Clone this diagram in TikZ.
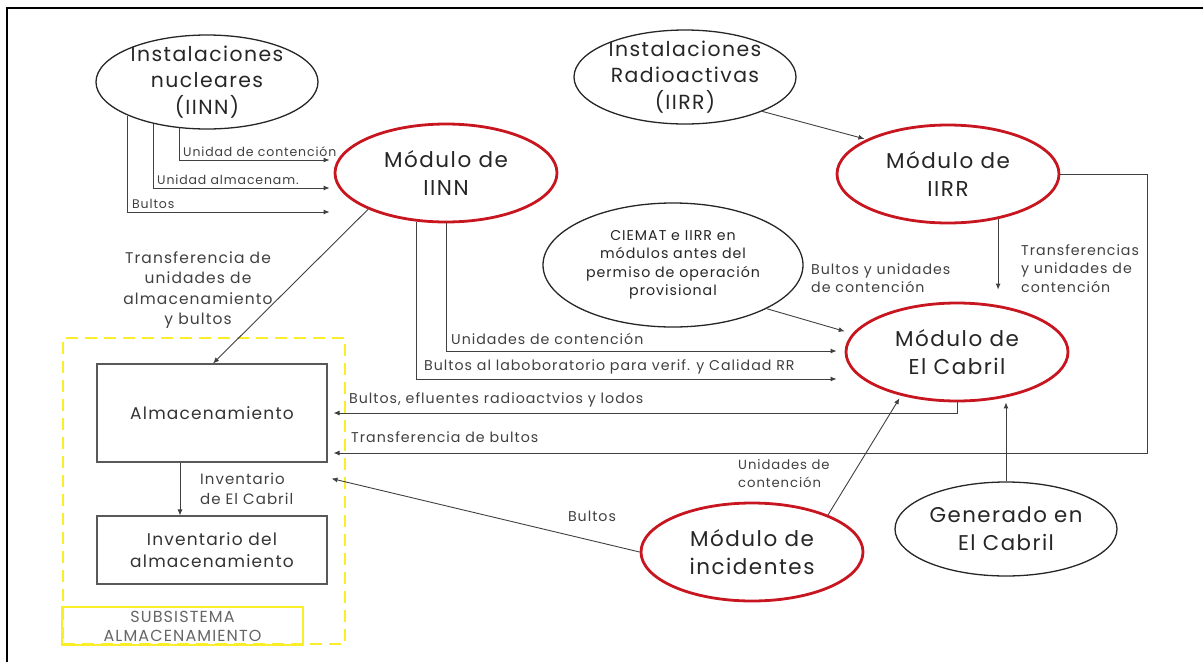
\documentclass[tikz,border=0pt]{standalone}
\usepackage{fontspec}
\setmainfont{Poppins}[LetterSpace=7]
\usetikzlibrary{positioning,calc,arrows.meta,shapes.geometric}

\definecolor{rojomod}{RGB}{200,22,32}
\definecolor{amarillo}{RGB}{250,238,40}

\begin{document}
\begin{tikzpicture}[x=1pt,y=-1pt]
	\useasboundingbox (0,0) rectangle (1203,662);
	\tikzstyle{every node}=[align=center, inner sep=1pt]
	\tikzstyle{inst}=[ellipse, draw=black!85, fill=white, line width=1.3pt, minimum width=222pt, minimum height=94pt,
		inner xsep=-14pt, inner ysep=-10pt, text=black!85, font=\fontsize{20.4}{26.5}\selectfont]
	\tikzstyle{modulo}=[inst, draw=rojomod, line width=2.8pt, minimum height=98pt, font=\fontsize{21.5}{28}\selectfont]
	\tikzstyle{caja}=[draw=black!65, line width=1.1pt, minimum width=230pt, text=black!80, font=\fontsize{17}{22}\selectfont]
	\tikzstyle{etq}=[text=black!75, font=\fontsize{14.2}{18.5}\selectfont]
	\tikzstyle{flecha}=[-{Latex[length=6pt,width=5pt]}, draw=black!75, line width=0.9pt]

	% marco
	\draw[line width=1.6pt] (7,662) -- (7,8) -- (1203,8);

	% etiquetas IINN (quedan bajo el modulo)
	\node[etq, anchor=south west, font=\fontsize{12.5}{14}\selectfont] (l1) at (182,158) {Unidad de contención};
	\node[etq, anchor=south west, font=\fontsize{12.5}{14}\selectfont] (l2) at (156,186) {Unidad almacenam.};
	\node[etq, anchor=south west, font=\fontsize{12.5}{14}\selectfont] (l3) at (131,210) {Bultos};

	% subsistema de almacenamiento
	\node[draw=amarillo, line width=2pt, dash pattern=on 12pt off 7pt, minimum width=282pt, minimum height=306pt] (subsis) at (204,491) {};
	\node[draw=amarillo, line width=1.8pt, minimum width=241pt, minimum height=38pt, inner sep=0pt,
		text=black!60, font=\fontsize{16}{19}\selectfont] (titsub) at (182.5,626) {SUBSISTEMA\\ALMACENAMIENTO};
	\node[caja, minimum height=98pt] (alm) at (212,413) {Almacenamiento};
	\node[caja, minimum height=68pt] (inv) at (212,550) {Inventario del\\almacenamiento};

	% instalaciones y modulos
	\node[inst] (iinn) at (207,82) {Instalaciones\\nucleares\\(IINN)};
	\node[inst] (iirr) at (685,77) {Instalaciones\\Radioactivas\\(IIRR)};
	\node[modulo] (miinn) at (446,173) {Módulo de\\IINN};
	\node[modulo] (miirr) at (948,174) {Módulo de\\IIRR};
	\node[inst, minimum width=260pt, minimum height=124pt, font=\fontsize{14.2}{18.5}\selectfont] (ciemat) at (673,265)
		{CIEMAT e IIRR en\\módulos antes del\\permiso de operación\\provisional};
	\node[modulo] (cabril) at (957,352) {Módulo de\\El Cabril};
	\node[modulo] (incid) at (752,552) {Módulo de\\incidentes};
	\node[inst, font=\fontsize{21.3}{28}\selectfont] (gen) at (1006,529) {Generado en\\El Cabril};

	% IINN -> modulo de IINN
	\draw[flecha] (iinn.239) |- ($(miinn.west)+(-4,-13)$);
	\draw[flecha] (iinn.218) |- ($(miinn.west)+(-4,15)$);
	\draw[flecha] (iinn.203) |- ($(miinn.west)+(-4,39)$);

	% modulo de IINN -> almacenamiento
	\draw[flecha] (miinn.205) -- ($(alm.north)+(1,0)$);
	\node[etq, font=\fontsize{15.5}{20.5}\selectfont] (l4) at (198,290) {Transferencia de\\unidades de\\almacenamiento\\y bultos};

	% modulo de IINN -> El Cabril
	\draw[flecha] (miinn.south) |- ($(cabril.west)+(-8,-1)$);
	\draw[flecha] (miinn.239) |- ($(cabril.west)+(-8,27)$);
	\node[etq, anchor=south west] (l5) at (450,346) {Unidades de contención};
	\node[etq, anchor=south west] (l6) at (423,375) {Bultos al laboboratorio para verif. y Calidad RR};

	% IIRR
	\draw[flecha, shorten >=2pt] (iirr.336) -- (miirr.157);
	\draw[flecha, shorten >=12pt] (miirr.318) -- (miirr.318 |- cabril.north);
	\node[etq, anchor=north west, align=left] (l7) at (1020,243) {Transferencias\\y unidades de\\contención};

	% CIEMAT -> El Cabril
	\draw[flecha, shorten >=8pt] (ciemat.335) -- (cabril.170);
	\node[etq, anchor=north west, align=left] (l8) at (810,262) {Bultos y unidades\\de contención};

	% El Cabril y IIRR -> almacenamiento
	\draw[flecha] (cabril.south) |- ($(alm.east)+(6,0)$);
	\node[etq, anchor=south west] (l9) at (348,408) {Bultos, efluentes radioactvios y lodos};
	\draw[flecha] (miirr.east) -- ++(87,0) |- ($(alm.east)+(6,40)$);
	\node[etq, anchor=south west] (l10) at (350,444) {Transferencia de bultos};

	% incidentes
	\draw[flecha] (incid.west) -- ($(alm.south east)+(4,16)$);
	\node[etq] (l11) at (592,516) {Bultos};
	\draw[flecha, shorten >=3pt] (incid.26) -- (cabril.218);
	\node[etq, anchor=north west, align=left, font=\fontsize{13.2}{18.5}\selectfont] (l12) at (737,458) {Unidades de\\contención};

	% generado en El Cabril
	\draw[flecha] (gen.north) -- (gen.north |- cabril.south);

	% almacenamiento -> inventario
	\draw[flecha] ($(alm.south)+(-32,0)$) -- ($(inv.north)+(-32,0)$);
	\node[etq, anchor=north west, align=left, font=\fontsize{15}{20}\selectfont] (l13) at (199,472) {Inventario\\de El Cabril};
\end{tikzpicture}
\end{document}
